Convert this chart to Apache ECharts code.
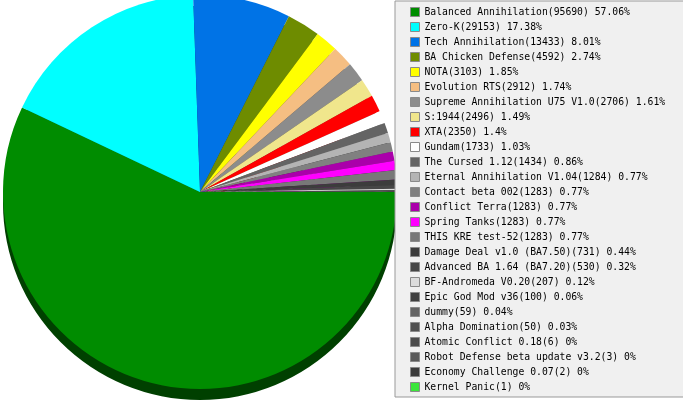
<!DOCTYPE html>
<html>
<head>
<meta charset="utf-8">
<script src="https://cdn.jsdelivr.net/npm/echarts@6/dist/echarts.min.js"></script>
<style>
html,body{margin:0;padding:0;background:#fff;}
#c{width:683px;height:400px;}
</style>
</head>
<body>
<div id="c"></div>
<script>
const names = [
  'Balanced Annihilation','Zero-K','Tech Annihilation','BA Chicken Defense','NOTA',
  'Evolution RTS','Supreme Annihilation U75 V1.0','S:1944','XTA','Gundam',
  'The Cursed 1.12','Eternal Annihilation V1.04','Contact beta 002','Conflict Terra','Spring Tanks',
  'THIS KRE test-52','Damage Deal v1.0 (BA7.50)','Advanced BA 1.64 (BA7.20)','BF-Andromeda V0.20','Epic God Mod v36',
  'dummy','Alpha Domination','Atomic Conflict 0.18','Robot Defense beta update v3.2','Economy Challenge 0.07',
  'Kernel Panic'
];
const values = [
  95690,29153,13433,4592,3103,
  2912,2706,2496,2350,1733,
  1434,1284,1283,1283,1283,
  1283,731,530,207,100,
  59,50,6,3,2,
  1
];
const percents = [
  '57.06','17.38','8.01','2.74','1.85',
  '1.74','1.61','1.49','1.4','1.03',
  '0.86','0.77','0.77','0.77','0.77',
  '0.77','0.44','0.32','0.12','0.06',
  '0.04','0.03','0','0','0',
  '0'
];
const colors = [
  '#008C00','#00FFFF','#0073E6','#6E8C00','#FFFF00',
  '#F5BE82','#8C8C8C','#F0E68C','#FF0000','#FFFFFF',
  '#646464','#B4B4B4','#808080','#AA00AA','#FF00FF',
  '#787878','#3C3C3C','#464646','#DCDCDC','#404040',
  '#646464','#505050','#4B4B4B','#5A5A5A','#3C3C3C',
  '#3CE63C'
];

function darken(hex){
  const n = parseInt(hex.slice(1),16);
  const r = Math.round(((n>>16)&255)*0.46), g = Math.round(((n>>8)&255)*0.46), b = Math.round((n&255)*0.46);
  return 'rgb('+r+','+g+','+b+')';
}

const topData = names.map((n,i)=>({name:n, value:values[i], itemStyle:{color:colors[i]}}));
const sideData = names.map((n,i)=>({name:n+' side', value:values[i], itemStyle:{color:darken(colors[i])}}));
const lookup = {};
names.forEach((n,i)=>{lookup[n]=i;});

const chart = echarts.init(document.getElementById('c'), null, {renderer:'canvas'});
chart.setOption({
  animation:false,
  backgroundColor:'#ffffff',
  legend:{
    data:names,
    orient:'vertical',
    left:395, top:1,
    padding:[6,40,5,15],
    backgroundColor:'#F0F0F0',
    borderColor:'#999999',
    borderWidth:1,
    itemWidth:9, itemHeight:9,
    itemGap:5,
    icon:'rect',
    itemStyle:{borderColor:'#8a8a8a', borderWidth:1},
    selectedMode:false,
    textStyle:{fontFamily:'DejaVu Sans Mono', fontSize:9.75, color:'#000', lineHeight:10},
    formatter:function(n){const i=lookup[n];return n+'('+values[i]+') '+percents[i]+'%';}
  },
  series:[
    {
      type:'pie', z:1,
      center:[200,203], radius:[0,197],
      startAngle:0, clockwise:true,
      silent:true,
      label:{show:false}, labelLine:{show:false},
      emphasis:{disabled:true},
      data:sideData
    },
    {
      type:'pie', z:2,
      center:[200,192], radius:[0,197],
      startAngle:0, clockwise:true,
      label:{show:false}, labelLine:{show:false},
      emphasis:{disabled:true},
      itemStyle:{borderWidth:0},
      data:topData
    }
  ]
});
</script>
</body>
</html>
